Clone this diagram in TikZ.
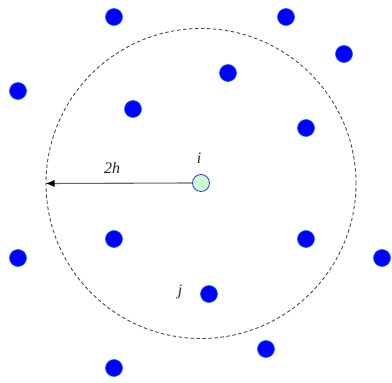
\documentclass[tikz,border=0pt]{standalone}
\usepackage{fontspec}
\setmainfont{Liberation Serif}
\usetikzlibrary{arrows.meta}
\begin{document}
\begin{tikzpicture}[x=1pt,y=-1pt,
  dot/.style={circle,fill=blue,draw=blue!60!cyan,line width=0.6pt,inner sep=0pt,minimum size=17pt},
  lab/.style={font=\fontsize{16}{18}\selectfont\itshape,inner sep=0pt,text=black!85}]
\useasboundingbox (0,0) rectangle (392,383);
\node[circle,draw=black!70,dash pattern=on 3.5pt off 2.5pt,line width=0.9pt,minimum size=310pt,inner sep=0pt] (rng) at (201,183.5) {};
\node[circle,draw=blue!80,fill=green!20,line width=0.8pt,minimum size=17pt,inner sep=0pt] (i) at (201,183) {};
\coordinate (edge) at (rng.west);
\draw[black!60,line width=1.1pt,-{Latex[length=9pt,width=7pt,black]}] (i.west) -- (edge);
\node[lab] (li) at (199,158) {i};
\node[lab] (l2h) at (112,168) {2h};
\node[lab] (lj) at (180,292) {j};
\node[dot] (d1) at (114,17) {};
\node[dot] (d2) at (286,17) {};
\node[dot] (d3) at (344,54) {};
\node[dot] (d4) at (18,91) {};
\node[dot] (d5) at (228,73) {};
\node[dot] (d6) at (133,109) {};
\node[dot] (d7) at (306,128) {};
\node[dot] (d8) at (114,239) {};
\node[dot] (d9) at (306,239) {};
\node[dot] (d10) at (382,258) {};
\node[dot] (d11) at (18,258) {};
\node[dot] (d12) at (209,294) {};
\node[dot] (d13) at (266,349) {};
\node[dot] (d14) at (114,368) {};
\end{tikzpicture}
\end{document}
